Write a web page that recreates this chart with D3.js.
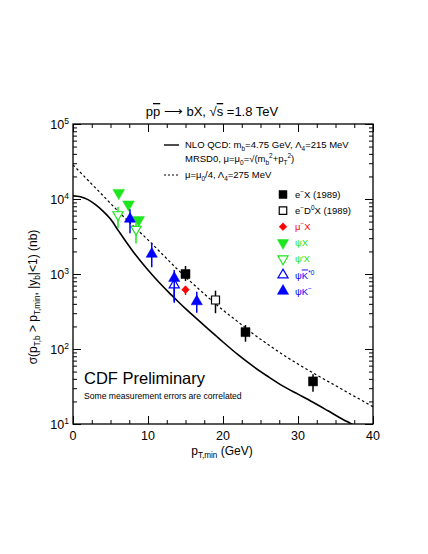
<!DOCTYPE html>
<html>
<head>
<meta charset="utf-8">
<script src="https://cdn.jsdelivr.net/npm/d3@7"></script>
<style>
  body { margin: 0; background: #fff; }
  text { font-family: "Liberation Sans", Arial, sans-serif; fill: #000; }
</style>
</head>
<body>
<div id="chart"></div>
<script>
// NLO QCD curves (pT,min in GeV, sigma in nb)
var solidPt  = [0, 1, 2, 3, 4, 5, 6, 7, 8, 9, 10, 11, 12, 13, 14, 15, 16, 17, 18, 19, 20, 22, 24, 26, 28, 30, 32, 34, 36, 37, 38];
var solidSig = [11000, 10700, 9800, 8400, 6900, 5400, 3850, 2750, 2000, 1490, 1130, 870, 680, 540, 430, 345, 280, 228, 186, 152, 124, 84, 59, 43, 32, 25, 19.5, 15, 11.5, 10.2, 9];
var dashPt   = [0, 2, 4, 6, 8, 10, 12, 14, 16, 18, 20, 22, 24, 26, 28, 30, 32, 34, 36, 38, 40];
var dashSig  = [28500, 17800, 11100, 6900, 4400, 2850, 1800, 1135, 740, 490, 330, 230, 160, 115, 84, 63, 48, 37, 28.5, 22, 17];

// measurements: pT, sigma, low, high
var eX       = [[15, 1000, 807, 1280], [23, 168, 125, 209], [32, 37, 27, 46]];
var eD0X     = [[19, 450, 300, 600]];
var muX      = [[15, 618, 525, 692]];
var psiX     = [[6.1, 12100, 10500, 13000], [7.4, 8490, 7400, 9200], [8.75, 5250, 4500, 5800]];
var psiPX    = [[6.0, 6180, 4060, 7890], [8.4, 3945, 2560, 4740]];
var psiKstar = [[13.5, 713, 430, 1000]];
var psiK     = [[7.6, 5410, 3490, 7290], [10.5, 1848, 1228, 2610], [13.5, 880, 414, 1130], [16.5, 430, 305, 581]];

var xMajor = [0, 10, 20, 30, 40];
var yMajor = [1e1, 1e2, 1e3, 1e4, 1e5];
var yExp   = ["1", "2", "3", "4", "5"];

var green = "#1ee61e", blue = "#0000ff", red = "#ff0000";

var margin = { top: 124, right: 55, bottom: 130, left: 73 };
var svgW = 428, svgH = 554;
var w = svgW - margin.left - margin.right;
var h = svgH - margin.top - margin.bottom;

var svg = d3.select("#chart").append("svg")
    .attr("width", svgW).attr("height", svgH);
svg.append("rect").attr("width", svgW).attr("height", svgH).attr("fill", "#fff");

var g = svg.append("g").attr("transform", `translate(${margin.left}, ${margin.top})`);

var x = d3.scaleLinear().domain([0, 40]).range([0, w]);
var y = d3.scaleLog().domain([10, 1e5]).range([h, 0]);

// text with sub/superscripts
function rich(sel, parts, fs) {
    var off = 0;
    parts.forEach(function(p) {
        var k = p[1];
        var target = k === "sub" ? fs * 0.28 : (k === "sup" ? -fs * 0.42 : 0);
        var t = sel.append("tspan").attr("dy", target - off)
            .attr("font-size", k === "sub" || k === "sup" ? fs * 0.68 : fs)
            .text(p[0]);
        if (p[2]) t.style("text-decoration", "overline");
        off = target;
    });
    return sel;
}

// axes (ticks inward)
var xMinor = d3.range(0, 40.1, 2.5);
var yMinor = [];
[10, 100, 1000, 10000].forEach(function(d) { for (var i = 2; i <= 9; i++) yMinor.push(d * i); });

function styleAxis(a) {
    a.select(".domain").remove();
    a.selectAll("line").attr("stroke", "#000").attr("stroke-width", 1);
    a.selectAll("text").remove();
}
g.append("g").attr("transform", `translate(0, ${h})`)
    .call(d3.axisBottom(x).tickValues(xMinor).tickSize(-4)).call(styleAxis);
g.append("g").attr("transform", `translate(0, ${h})`)
    .call(d3.axisBottom(x).tickValues(xMajor).tickSize(-8)).call(styleAxis);
g.append("g")
    .call(d3.axisTop(x).tickValues(xMinor).tickSize(-4)).call(styleAxis);
g.append("g")
    .call(d3.axisTop(x).tickValues(xMajor).tickSize(-8)).call(styleAxis);
g.append("g").call(d3.axisLeft(y).tickValues(yMinor).tickSize(-4)).call(styleAxis);
g.append("g").call(d3.axisLeft(y).tickValues(yMajor).tickSize(-8)).call(styleAxis);
g.append("g").attr("transform", `translate(${w}, 0)`)
    .call(d3.axisRight(y).tickValues(yMinor).tickSize(-4)).call(styleAxis);
g.append("g").attr("transform", `translate(${w}, 0)`)
    .call(d3.axisRight(y).tickValues(yMajor).tickSize(-8)).call(styleAxis);

g.append("rect").attr("width", w).attr("height", h)
    .attr("fill", "none").attr("stroke", "#000").attr("stroke-width", 1.3);

// tick labels
g.selectAll(".xl").data(xMajor).enter().append("text")
    .attr("x", d => x(d)).attr("y", h + 16)
    .attr("text-anchor", "middle").attr("font-size", 12.5).text(d => d);
yMajor.forEach(function(d, i) {
    var t = g.append("text").attr("x", -4).attr("y", y(d) + 5)
        .attr("text-anchor", "end").attr("font-size", 12.5);
    rich(t, [["10"], [yExp[i], "sup"]], 12.5);
});

// curves
g.append("clipPath").attr("id", "clip").append("rect").attr("width", w).attr("height", h);
var line = d3.line().x(d => x(d[0])).y(d => y(d[1])).curve(d3.curveMonotoneX);
g.append("path").datum(d3.zip(solidPt, solidSig)).attr("clip-path", "url(#clip)")
    .attr("d", line).attr("fill", "none").attr("stroke", "#000").attr("stroke-width", 1.6);
g.append("path").datum(d3.zip(dashPt, dashSig)).attr("clip-path", "url(#clip)")
    .attr("d", line).attr("fill", "none").attr("stroke", "#000").attr("stroke-width", 1.2)
    .attr("stroke-dasharray", "2.5,2.5");

// data points
function marker(sel, type, color, open, rot, size) {
    sel.append("path")
        .attr("d", d3.symbol().type(type).size(size))
        .attr("transform", rot ? "rotate(180)" : null)
        .attr("fill", open ? "#fff" : color).attr("stroke", color).attr("stroke-width", open ? 1.2 : 0.5);
}
function series(data, type, color, open, rot, size) {
    var s = g.append("g");
    s.selectAll("line").data(data).enter().append("line")
        .attr("x1", d => x(d[0])).attr("x2", d => x(d[0]))
        .attr("y1", d => y(d[2])).attr("y2", d => y(d[3]))
        .attr("stroke", color).attr("stroke-width", 1.5);
    s.selectAll("g").data(data).enter().append("g")
        .attr("transform", d => `translate(${x(d[0])}, ${y(d[1])})`)
        .each(function() { marker(d3.select(this), type, color, open, rot, size); });
}
series(psiPX, d3.symbolTriangle, green, true, true, 45);
series(psiX, d3.symbolTriangle, green, false, true, 60);
series(psiKstar, d3.symbolTriangle, blue, true, false, 45);
series(psiK, d3.symbolTriangle, blue, false, false, 55);
series(eD0X, d3.symbolSquare, "#000", true, false, 64);
series(eX, d3.symbolSquare, "#000", false, false, 81);
series(muX, d3.symbolDiamond2, red, false, false, 38);

// title
var title = svg.append("text").attr("x", 212).attr("y", 116).attr("text-anchor", "middle").attr("font-size", 13);
rich(title, [["p"], ["p", null, true], [" \u27F6 bX,  \u221A"], ["s", null, true], [" =1.8 TeV"]], 13);

// axis titles
var xt = svg.append("text").attr("x", 222).attr("y", 455).attr("text-anchor", "middle").attr("font-size", 12);
rich(xt, [["p"], ["T,min", "sub"], [" (GeV)"]], 12);
var yt = svg.append("text").attr("transform", "translate(37, 297) rotate(-90)")
    .attr("text-anchor", "middle").attr("font-size", 12);
rich(yt, [["\u03C3(p"], ["T,b", "sub"], [" > p"], ["T,min", "sub"], [", |y"], ["b", "sub"], ["|<1) (nb)"]], 12);

// curve legend
var lg = svg.append("g");
lg.append("line").attr("x1", 164).attr("x2", 179).attr("y1", 145).attr("y2", 145)
    .attr("stroke", "#000").attr("stroke-width", 1.4);
lg.append("line").attr("x1", 164).attr("x2", 179).attr("y1", 175).attr("y2", 175)
    .attr("stroke", "#000").attr("stroke-width", 1.2).attr("stroke-dasharray", "2,2");
rich(lg.append("text").attr("x", 185).attr("y", 148).attr("font-size", 9.5),
    [["NLO QCD:  m"], ["b", "sub"], ["=4.75 GeV, \u039B"], ["4", "sub"], ["=215 MeV"]], 9.5);
rich(lg.append("text").attr("x", 185).attr("y", 162).attr("font-size", 9.5),
    [["MRSD0,  \u03BC=\u03BC"], ["0", "sub"], ["=\u221A(m"], ["b", "sub"], ["2", "sup"], ["+p"], ["T", "sub"], ["2", "sup"], [")"]], 9.5);
rich(lg.append("text").attr("x", 185).attr("y", 178).attr("font-size", 9.5),
    [["\u03BC=\u03BC"], ["0", "sub"], ["/4, \u039B"], ["4", "sub"], ["=275 MeV"]], 9.5);

// marker legend
var rows = [
    { type: d3.symbolSquare, color: "#000", open: false, rot: false, size: 64, parts: [["e"], ["\u2212", "sup"], ["X (1989)"]] },
    { type: d3.symbolSquare, color: "#000", open: true, rot: false, size: 56, parts: [["e"], ["\u2212", "sup"], ["D"], ["0", "sup"], ["X (1989)"]] },
    { type: d3.symbolDiamond2, color: red, open: false, rot: false, size: 38, parts: [["\u03BC"], ["\u2212", "sup"], ["X"]] },
    { type: d3.symbolTriangle, color: green, open: false, rot: true, size: 55, parts: [["\u03C8X"]] },
    { type: d3.symbolTriangle, color: green, open: true, rot: true, size: 45, parts: [["\u03C8\u2032X"]] },
    { type: d3.symbolTriangle, color: blue, open: true, rot: false, size: 45, parts: [["\u03C8"], ["K", null, true], ["*0", "sup"]] },
    { type: d3.symbolTriangle, color: blue, open: false, rot: false, size: 55, parts: [["\u03C8K"], ["\u2212", "sup"]] }
];
rows.forEach(function(r, i) {
    var yy = 194.5 + i * 16.1;
    var m = svg.append("g").attr("transform", `translate(283, ${yy})`);
    marker(m, r.type, r.color, r.open, r.rot, r.size);
    var t = svg.append("text").attr("x", 295).attr("y", yy + 3.5).attr("font-size", 9.5).style("fill", r.color);
    rich(t, r.parts, 9.5);
    t.selectAll("tspan").style("fill", r.color);
});

// annotations
svg.append("text").attr("x", 84).attr("y", 384).attr("font-size", 16.5).text("CDF Preliminary");
svg.append("text").attr("x", 84).attr("y", 399).attr("font-size", 8.6).text("Some measurement errors are correlated");
</script>
</body>
</html>
